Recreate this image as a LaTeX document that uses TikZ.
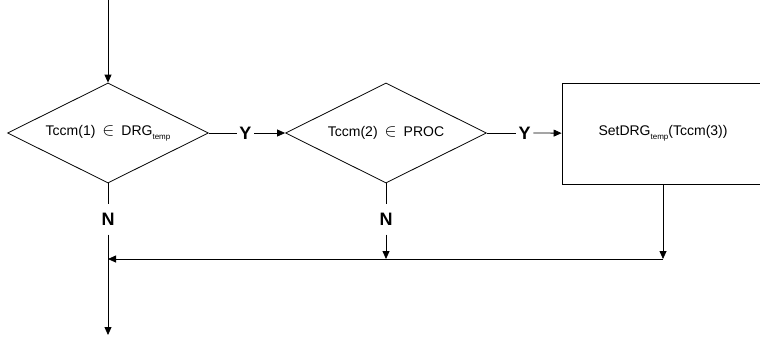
\documentclass[tikz,border=0pt]{standalone}
\usepackage{fontspec}
\setmainfont{Liberation Sans}
\usetikzlibrary{shapes.geometric,arrows.meta}
\newcommand{\tmpsub}{\raisebox{-4pt}{\fontsize{8}{9}\selectfont temp}}
\newcommand{\isin}{\enspace\scalebox{1.25}{$\in$}\enspace}
\tikzset{
  >={Triangle[length=8pt,width=7pt]},
  every path/.style={line width=0.8pt},
  test/.style={draw, diamond, shape aspect=2, minimum width=201pt, minimum height=100pt, inner sep=0pt, font=\fontsize{14}{16}\selectfont},
  proc/.style={draw, rectangle, minimum width=202pt, minimum height=101pt, font=\fontsize{14}{16}\selectfont},
  yn/.style={font=\fontsize{18}{20}\selectfont\bfseries, inner xsep=2.5pt, inner ysep=8.5pt},
}
\begin{document}
\begin{tikzpicture}[x=1pt, y=-1pt]
\useasboundingbox (0,0) rectangle (760,338);
\coordinate (in) at (108,0);
\node[test] (d1) at (108,133) {Tccm(1)\isin DRG\tmpsub};
\node[yn] (y1) at (245.5,133) {Y};
\node[test] (d2) at (386,133) {Tccm(2)\isin PROC};
\node[yn] (y2) at (524.5,133) {Y};
\node[proc] (s) at (663,133.5) {SetDRG\tmpsub(Tccm(3))};
\node[yn] (n1) at (108,219.5) {N};
\node[yn] (n2) at (386,219.5) {N};
\coordinate (m1) at (108,259);
\coordinate (m2) at (386,259);
\coordinate (m3) at (663,259);
\coordinate (out) at (108,335);
\draw[->] (in) -- (d1);
\draw (d1) -- (y1);
\draw[->] (y1) -- (d2);
\draw (d2) -- (y2);
\draw[->] (y2) -- (s);
\draw (d1) -- (n1);
\draw[->] (n1) -- (out);
\draw (d2) -- (n2);
\draw[->] (n2) -- (m2);
\draw[->] (s) -- (m3);
\draw[->] (m3) -- (m1);
\end{tikzpicture}
\end{document}
